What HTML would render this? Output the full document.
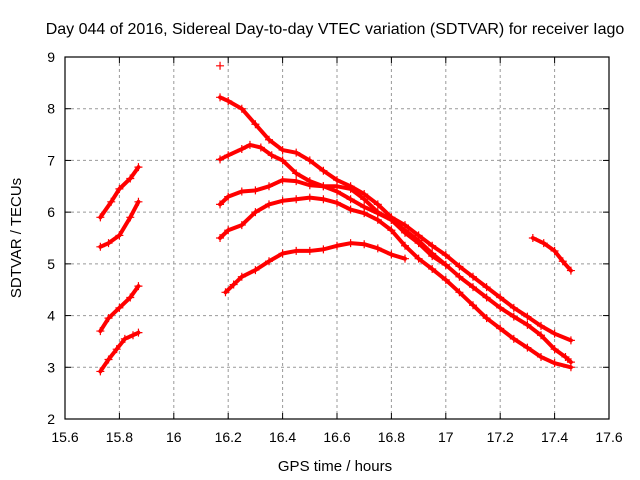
<!DOCTYPE html>
<html><head><meta charset="utf-8"><style>
body{margin:0;background:#fff}
svg{display:block;font-family:"Liberation Sans",sans-serif}
</style></head><body>
<svg id="chart" width="640" height="480">
<rect x="0" y="0" width="640" height="480" fill="#fff"/>
<text x="335" y="34" font-size="16" text-anchor="middle" fill="#000">Day 044 of 2016, Sidereal Day-to-day VTEC variation (SDTVAR) for receiver Iago</text>
<text x="335" y="471" font-size="15" text-anchor="middle">GPS time / hours</text>
<text transform="translate(21,238) rotate(-90)" font-size="15" text-anchor="middle">SDTVAR / TECUs</text>
<g id="grid"></g><g id="ticks"></g><g id="marks"></g>
<rect x="65" y="57" width="544" height="362" fill="none" stroke="#000" stroke-width="1.2"/>
</svg>
<script>
const xTicks=[15.6,15.8,16,16.2,16.4,16.6,16.8,17,17.2,17.4,17.6];
const yTicks=[2,3,4,5,6,7,8,9];
const arcAx=[15.73,15.77,15.8,15.84,15.87];
const arcAy=[5.9,6.2,6.45,6.65,6.87];
const arcBx=[15.73,15.76,15.8,15.84,15.87];
const arcBy=[5.33,5.4,5.55,5.9,6.2];
const arcCx=[15.73,15.76,15.8,15.84,15.87];
const arcCy=[3.7,3.95,4.15,4.35,4.57];
const arcDx=[15.73,15.76,15.79,15.82,15.85,15.87];
const arcDy=[2.92,3.15,3.35,3.55,3.62,3.67];
const outX=[16.17];
const outY=[8.83];
const s1x=[16.17,16.2,16.25,16.3,16.35,16.4,16.45,16.5,16.55,16.6,16.65,16.7,16.75,16.8,16.85,16.9,16.95,17.0,17.05,17.1,17.15,17.2,17.25,17.3,17.35,17.4,17.46];
const s1y=[8.22,8.15,8.0,7.7,7.4,7.2,7.15,7.0,6.8,6.62,6.5,6.35,6.15,5.9,5.75,5.55,5.35,5.17,4.95,4.75,4.55,4.35,4.15,3.98,3.8,3.65,3.52];
const s2x=[16.17,16.2,16.25,16.28,16.32,16.36,16.4,16.45,16.5,16.55,16.6,16.65,16.7,16.75,16.8,16.85,16.9,16.95,17.0,17.05,17.1,17.15,17.2,17.25,17.3,17.35,17.4,17.44,17.46];
const s2y=[7.02,7.1,7.22,7.3,7.25,7.1,7.0,6.75,6.6,6.5,6.5,6.45,6.25,6.0,5.85,5.65,5.45,5.2,4.98,4.75,4.55,4.35,4.15,3.98,3.82,3.62,3.35,3.2,3.1];
const s3x=[16.17,16.2,16.25,16.3,16.35,16.4,16.45,16.5,16.55,16.6,16.65,16.7,16.75,16.8,16.85,16.9,16.95,17.0];
const s3y=[6.15,6.3,6.4,6.42,6.5,6.62,6.6,6.52,6.5,6.4,6.25,6.1,5.98,5.85,5.6,5.4,5.15,4.98];
const s4x=[16.17,16.2,16.25,16.3,16.35,16.4,16.45,16.5,16.55,16.6,16.65,16.7,16.75,16.8,16.85,16.9,16.95,17.0,17.05,17.1,17.15,17.2,17.25,17.3,17.35,17.4,17.46];
const s4y=[5.5,5.65,5.75,6.0,6.15,6.22,6.25,6.28,6.25,6.18,6.05,5.98,5.85,5.65,5.35,5.1,4.9,4.69,4.45,4.2,3.95,3.75,3.55,3.38,3.2,3.08,3.0];
const s5x=[16.19,16.22,16.25,16.3,16.35,16.4,16.45,16.5,16.55,16.6,16.65,16.7,16.75,16.8,16.85];
const s5y=[4.45,4.6,4.75,4.88,5.05,5.2,5.25,5.25,5.28,5.35,5.4,5.38,5.3,5.18,5.1];
const s6x=[17.32,17.36,17.4,17.43,17.46];
const s6y=[5.5,5.4,5.25,5.05,4.87];

const NS="http://www.w3.org/2000/svg";
const X0=65,X1=609,Y0=419,Y1=57;
function sx(v){return X0+(v-15.6)/(17.6-15.6)*(X1-X0);}
function sy(v){return Y0-(v-2)/(9-2)*(Y0-Y1);}
function mk(tag,attrs,parent){const e=document.createElementNS(NS,tag);for(const k in attrs)e.setAttribute(k,attrs[k]);parent.appendChild(e);return e;}
const grid=document.getElementById('grid'),ticks=document.getElementById('ticks'),marks=document.getElementById('marks');
xTicks.forEach((t,i)=>{
  const x=sx(t);
  if(i>0&&i<xTicks.length-1){
    const g=mk('line',{x1:x,x2:x,y1:Y1,y2:Y0,stroke:'#999','stroke-dasharray':'3,3'},grid);
    
    
  }
  mk('line',{x1:x,x2:x,y1:Y0,y2:Y0-6,stroke:'#000'},ticks);
  mk('line',{x1:x,x2:x,y1:Y1,y2:Y1+6,stroke:'#000'},ticks);
  const tx=mk('text',{x:x,y:Y0+23,'font-size':14,'text-anchor':'middle'},ticks);
  tx.textContent=String(t);
  
  
});
yTicks.forEach((t,i)=>{
  const y=sy(t);
  if(i>0&&i<yTicks.length-1){
    const g=mk('line',{x1:X0,x2:X1,y1:y,y2:y,stroke:'#999','stroke-dasharray':'3,3'},grid);
    
    
  }
  mk('line',{x1:X0,x2:X0+6,y1:y,y2:y,stroke:'#000'},ticks);
  mk('line',{x1:X1,x2:X1-6,y1:y,y2:y,stroke:'#000'},ticks);
  const ty=mk('text',{x:X0-10,y:y+5,'font-size':14,'text-anchor':'end'},ticks);
  ty.textContent=String(t);
  
  
});
function series(xs,ys,name,line){
  const g=mk('g',{},marks);
  
  
  if(line){
    const p=mk('polyline',{points:xs.map((x,i)=>sx(x)+','+sy(ys[i])).join(' '),fill:'none',stroke:'#f00','stroke-width':4,'stroke-linejoin':'round','stroke-linecap':'round'},g);
    
    
  }
  xs.forEach((x,i)=>{
    const cx=sx(x),cy=sy(ys[i]);
    const m=mk('path',{d:`M${cx-4},${cy}H${cx+4}M${cx},${cy-4}V${cy+4}`,stroke:'#f00','stroke-width':1.2},g);
    
    
  });
}
series(arcAx,arcAy,'arc-a',true);
series(arcBx,arcBy,'arc-b',true);
series(arcCx,arcCy,'arc-c',true);
series(arcDx,arcDy,'arc-d',true);
series(outX,outY,'outlier',false);
series(s1x,s1y,'series-1',true);
series(s2x,s2y,'series-2',true);
series(s3x,s3y,'series-3',true);
series(s4x,s4y,'series-4',true);
series(s5x,s5y,'series-5',true);
series(s6x,s6y,'series-6',true);
</script>
</body></html>
